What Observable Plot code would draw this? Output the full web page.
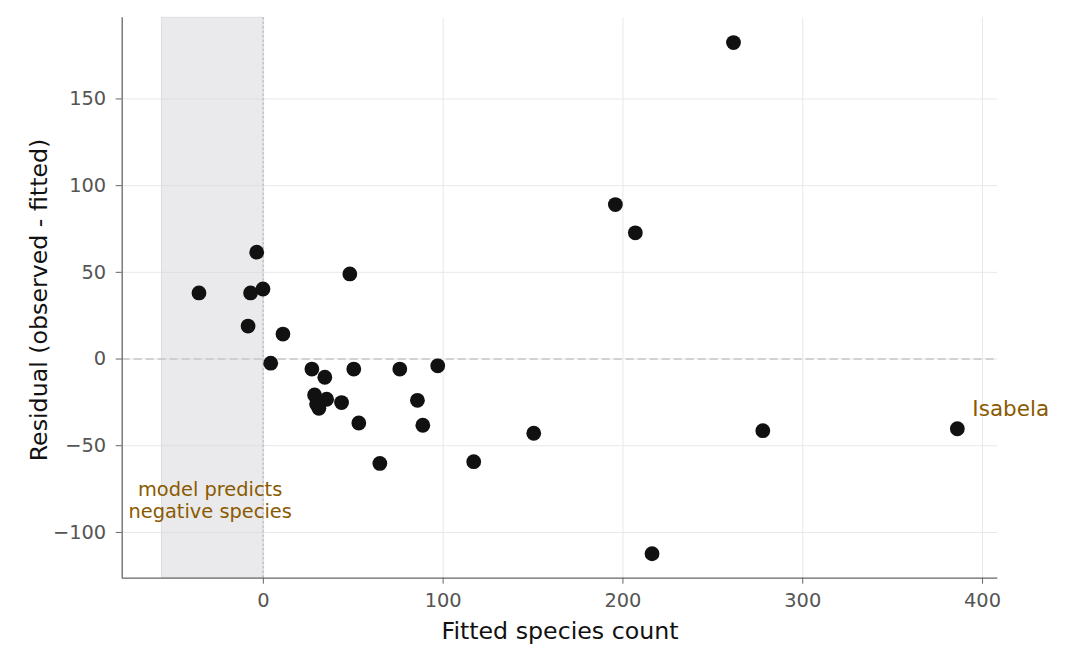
<!DOCTYPE html>
<html>
<head>
<meta charset="utf-8">
<script src="https://cdn.jsdelivr.net/npm/d3@7"></script>
<script src="https://cdn.jsdelivr.net/npm/@observablehq/plot@0.6"></script>
<style>
  html, body { margin: 0; padding: 0; background: #ffffff; }
  #chart svg { display: block; }
</style>
</head>
<body>
<div id="chart"></div>
<script>
// Fitted values and residuals (30 islands)
const fitted = [-35.8, -3.7, -7.1, -0.2, -8.5, 10.9, 48.1, 4.1, 27.0, 34.2,
                50.3, 75.9, 97.0, 28.5, 35.2, 29.6, 30.9, 43.5, 53.1, 64.8,
                85.7, 88.7, 117.0, 150.4, 195.8, 206.9, 216.2, 261.5, 277.8, 386.0];
const residual = [38.1, 61.6, 38.1, 40.4, 19.0, 14.4, 49.1, -2.4, -5.8, -10.5,
                  -5.8, -5.8, -3.9, -20.7, -23.2, -26.0, -28.4, -25.1, -36.9, -60.2,
                  -23.8, -38.2, -59.2, -42.8, 89.1, 72.8, -112.3, 182.5, -41.3, -40.2];

// Labelled point
const labelNames = ["Isabela"];
const labelFitted = [386.0];
const labelResidual = [-40.2];

// Shaded region: model predicts negative species
const bandStart = [-56.4];
const bandEnd = [0];
const bandNote = ["model predicts\nnegative species"];
const bandNoteX = [-29.6];
const bandNoteY = [-81.5];

// Axes
const xDomain = [-78.5, 408.5];
const yDomain = [-126.4, 196.8];
const xTicks = [0, 100, 200, 300, 400];
const yTicks = [-100, -50, 0, 50, 100, 150];
const xLabel = "Fitted species count";
const yLabel = "Residual (observed - fitted)";

const points = fitted.map((f, i) => ({fitted: f, residual: residual[i]}));
const labels = labelNames.map((n, i) => ({name: n, fitted: labelFitted[i], residual: labelResidual[i]}));
const bands = bandStart.map((s, i) => ({x1: s, x2: bandEnd[i]}));
const notes = bandNote.map((t, i) => ({text: t, x: bandNoteX[i], y: bandNoteY[i]}));

const fmt = d3.format("");
const brown = "#8a5a00";
const font = "DejaVu Sans, sans-serif";

const chart = Plot.plot({
  width: 1067,
  height: 663,
  marginLeft: 121.7,
  marginRight: 69.7,
  marginTop: 17.3,
  marginBottom: 85.3,
  style: {fontFamily: font, background: "#ffffff", overflow: "visible"},
  x: {domain: xDomain, ticks: xTicks},
  y: {domain: yDomain, ticks: yTicks},
  marks: [
    Plot.gridX(xTicks, {stroke: "#e8e8e8", strokeOpacity: 1, strokeWidth: 1}),
    Plot.gridY(yTicks, {stroke: "#e8e8e8", strokeOpacity: 1, strokeWidth: 1}),
    Plot.rect(bands, {x1: "x1", x2: "x2", fill: "#d6d6dc", fillOpacity: 0.5, stroke: "#c8c8ce", strokeOpacity: 0.5, strokeWidth: 1}),
    Plot.ruleY([0], {stroke: "#c6c6ca", strokeWidth: 1.5, strokeDasharray: "8,4"}),
    Plot.ruleX([0], {stroke: "#bebec3", strokeWidth: 1.5, strokeDasharray: "2,2.5"}),
    Plot.dot(points, {x: "fitted", y: "residual", r: 7.4, fill: "#111111", stroke: "none"}),
    Plot.text(labels, {x: "fitted", y: "residual", text: "name", textAnchor: "start", dx: 15, dy: -20, fill: brown, fontSize: 21.5}),
    Plot.text(notes, {x: "x", y: "y", text: "text", textAnchor: "middle", lineAnchor: "middle", lineHeight: 1.12, fill: brown, fontSize: 19.4}),
    Plot.ruleX([xDomain[0]], {stroke: "#666666", strokeWidth: 1.3}),
    Plot.ruleY([yDomain[0]], {stroke: "#666666", strokeWidth: 1.3}),
    Plot.axisX(xTicks, {tickSize: 6, tickPadding: 9, stroke: "#666666", fill: "#555555", fontSize: 19.4, tickFormat: fmt, label: null}),
    Plot.axisY(yTicks, {tickSize: 6, tickPadding: 10, stroke: "#666666", fill: "#555555", fontSize: 19.4, tickFormat: fmt, label: null}),
    Plot.text([xLabel], {frameAnchor: "bottom", dy: 53, fill: "#111111", fontSize: 23.7, textAnchor: "middle", lineAnchor: "middle"}),
    Plot.text([yLabel], {frameAnchor: "left", rotate: -90, dx: -83, dy: 2, fill: "#111111", fontSize: 23.7, textAnchor: "middle", lineAnchor: "middle"})
  ]
});
document.getElementById("chart").appendChild(chart);
</script>
</body>
</html>
